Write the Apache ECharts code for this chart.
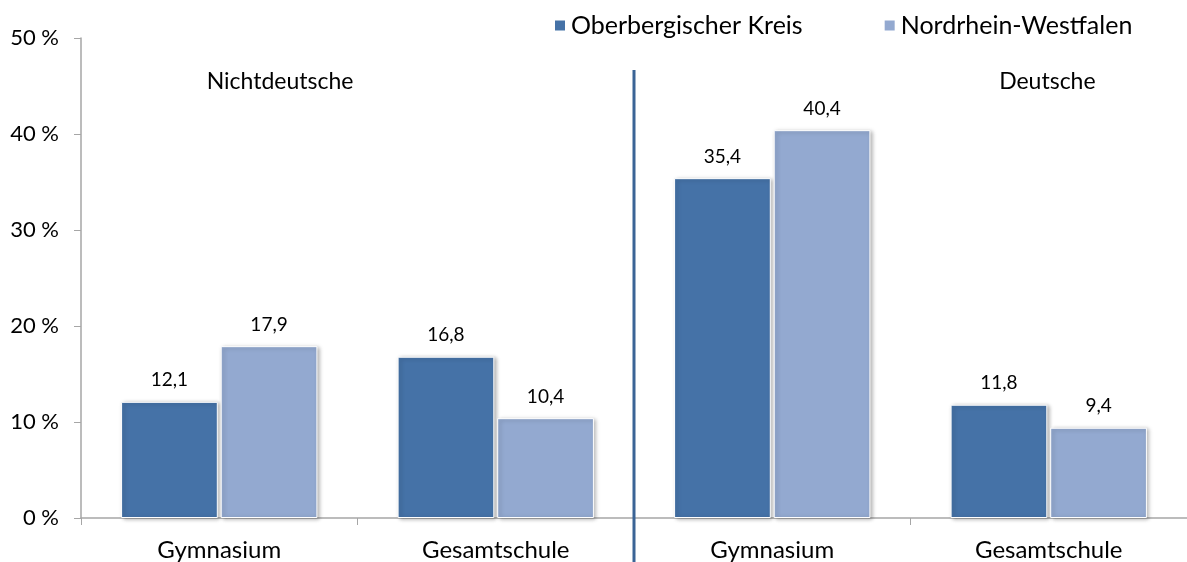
<!DOCTYPE html>
<html>
<head>
<meta charset="utf-8">
<script src="https://cdn.jsdelivr.net/npm/echarts@6/dist/echarts.min.js"></script>
<style>
  html, body { margin: 0; padding: 0; background: #fff; }
  #schulform { width: 1187px; height: 562px; }
</style>
</head>
<body>
<div id="schulform"></div>
<script>
const categories = ['Gymnasium', 'Gesamtschule', 'Gymnasium', 'Gesamtschule']
const groupNames = ['Nichtdeutsche', 'Deutsche']
const seriesNames = ['Oberbergischer Kreis', 'Nordrhein-Westfalen']
const kreisData = [12.1, 16.8, 35.4, 11.8]
const nrwData = [17.9, 10.4, 40.4, 9.4]
const yTicks = [0, 10, 20, 30, 40, 50]

const font = 'Lato, "Open Sans", sans-serif'
const chart = echarts.init(document.getElementById('schulform'))

// gemeinsamer Balkenstil (weißer Rand + leichter Schatten wie im Original)
function barSeries (name, data, color) {
  return {
    name: name,
    type: 'bar',
    data: data,
    barGap: '3%',
    barCategoryGap: '29%',
    itemStyle: {
      color: color,
      borderColor: '#ffffff',
      borderWidth: 1,
      shadowColor: 'rgba(0, 0, 0, 0.3)',
      shadowBlur: 4,
      shadowOffsetX: 2,
      shadowOffsetY: 1
    },
    label: {
      show: true,
      position: 'top',
      distance: 12,
      color: '#000',
      fontFamily: font,
      fontSize: 19,
      formatter: p => String(p.value).replace('.', ',')
    }
  }
}

const option = {
  animation: false,
  legend: {
    data: seriesNames,
    top: 8,
    left: 548,
    icon: 'rect',
    itemWidth: 12,
    itemHeight: 12,
    itemGap: 80,
    textStyle: { fontFamily: font, fontSize: 25, color: '#000' }
  },
  grid: {
    top: 38,
    left: 81,
    right: -3,
    bottom: 44
  },
  xAxis: {
    type: 'category',
    data: categories,
    axisLine: { lineStyle: { color: '#a6a6a6', width: 1.5 } },
    axisTick: { show: true, length: 7, lineStyle: { color: '#a6a6a6' } },
    axisLabel: { color: '#000', fontFamily: font, fontSize: 24, margin: 20 }
  },
  yAxis: {
    type: 'value',
    min: yTicks[0],
    max: yTicks[yTicks.length - 1],
    interval: 10,
    splitLine: { show: false },
    axisLine: { show: true, lineStyle: { color: '#a6a6a6', width: 1.5 } },
    axisTick: { show: true, length: 7, lineStyle: { color: '#a6a6a6' } },
    axisLabel: {
      color: '#000',
      fontFamily: font,
      fontSize: 22,
      margin: 22,
      formatter: v => v + ' %'
    }
  },
  series: [
    barSeries(seriesNames[0], kreisData, '#4572a7'),
    barSeries(seriesNames[1], nrwData, '#93a9d0')
  ]
}
chart.setOption(option)

// Trennlinie und Gruppentitel an den Achsenpositionen ausrichten
const x1 = chart.convertToPixel({ xAxisIndex: 0 }, 1)
const x2 = chart.convertToPixel({ xAxisIndex: 0 }, 2)
const splitX = (x1 + x2) / 2
const step = x2 - x1
chart.setOption({
  graphic: [
    {
      type: 'line',
      shape: { x1: splitX, y1: 70, x2: splitX, y2: 562 },
      style: { stroke: '#3b6496', lineWidth: 3 },
      z: 10
    },
    {
      type: 'text',
      x: splitX - step * 1.28,
      y: 82,
      style: { text: groupNames[0], fontFamily: font, fontSize: 23, fill: '#000', align: 'center', verticalAlign: 'middle' }
    },
    {
      type: 'text',
      x: splitX + step * 1.495,
      y: 82,
      style: { text: groupNames[1], fontFamily: font, fontSize: 23, fill: '#000', align: 'center', verticalAlign: 'middle' }
    }
  ]
})
</script>
</body>
</html>
